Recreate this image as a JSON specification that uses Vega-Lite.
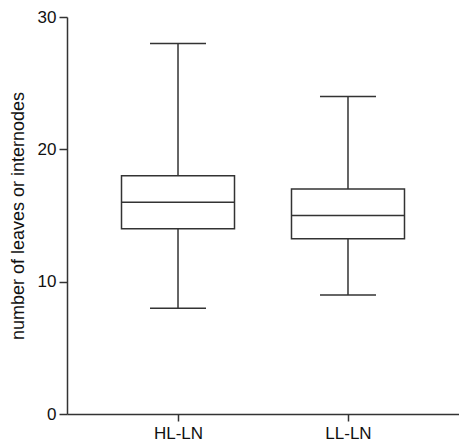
{
  "$schema": "https://vega.github.io/schema/vega-lite/v6.json",
  "width": 392,
  "height": 397,
  "autosize": {"type": "none"},
  "padding": {"left": 67, "top": 17, "right": 0, "bottom": 30},
  "background": "white",
  "config": {"view": {"stroke": null}, "font": "Liberation Sans"},
  "data": {"values": [
    {"group": "HL-LN", "min": 8, "q1": 14, "median": 16, "q3": 18, "max": 28},
    {"group": "LL-LN", "min": 9, "q1": 13.25, "median": 15, "q3": 17, "max": 24}
  ]},
  "encoding": {
    "x": {"field": "group", "type": "nominal", "sort": null,
      "scale": {"type": "point", "padding": 0.653},
      "axis": {"title": null, "labelAngle": 0, "labelFontSize": 17, "labelColor": "#111", "tickSize": 7, "tickColor": "#333", "domainColor": "#333", "domainWidth": 1.5, "tickWidth": 1.5, "labelPadding": 4}}
  },
  "layer": [
    {"mark": {"type": "rule", "color": "#333", "strokeWidth": 1.5},
     "encoding": {"y": {"field": "min", "type": "quantitative",
        "scale": {"domain": [0, 30], "nice": false},
        "axis": {"title": "number of leaves or internodes", "values": [0, 10, 20, 30], "grid": false, "tickSize": 8, "tickColor": "#333", "tickWidth": 1.5, "domainColor": "#333", "domainWidth": 1.5, "labelFontSize": 17, "labelColor": "#111", "titleFontSize": 18, "titleFontWeight": "normal", "titleColor": "#111", "titlePadding": 10, "labelPadding": 3}},
       "y2": {"field": "max"}}},
    {"mark": {"type": "bar", "size": 113, "fill": "white", "stroke": "#333", "strokeWidth": 1.5},
     "encoding": {"y": {"field": "q1", "type": "quantitative"}, "y2": {"field": "q3"}}},
    {"mark": {"type": "tick", "size": 113, "thickness": 1.5, "color": "#333", "opacity": 1},
     "encoding": {"y": {"field": "median", "type": "quantitative"}}},
    {"mark": {"type": "tick", "size": 56, "thickness": 1.5, "color": "#333", "opacity": 1},
     "encoding": {"y": {"field": "min", "type": "quantitative"}}},
    {"mark": {"type": "tick", "size": 56, "thickness": 1.5, "color": "#333", "opacity": 1},
     "encoding": {"y": {"field": "max", "type": "quantitative"}}}
  ]
}
